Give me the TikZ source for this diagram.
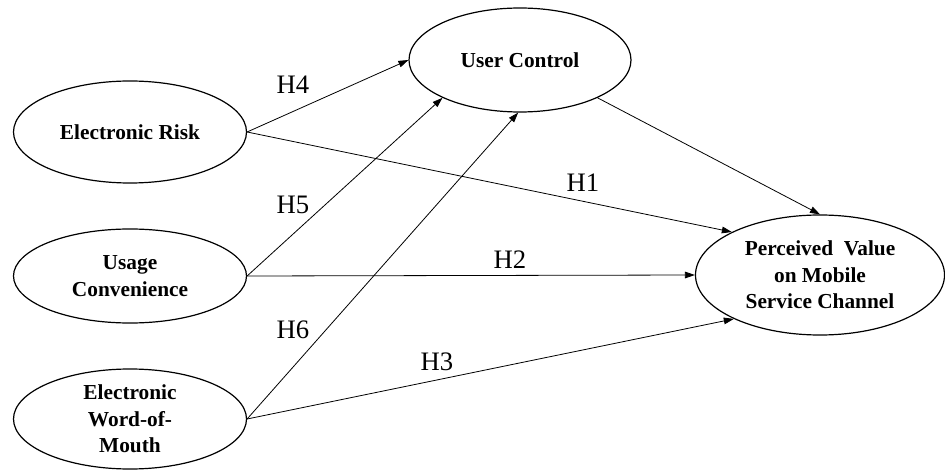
\documentclass[tikz,border=0pt]{standalone}
\usepackage{fontspec}
\setmainfont{Liberation Serif}
\usetikzlibrary{arrows.meta,shapes.geometric}

\begin{document}
\begin{tikzpicture}[x=0.75pt,y=-0.75pt,
  construct/.style={draw,ellipse,line width=0.9pt,inner sep=0pt,align=center,
    font=\fontsize{16}{20}\selectfont\bfseries},
  hyp/.style={font=\fontsize{20}{24}\selectfont},
  hpath/.style={line width=0.6pt,-{Triangle[length=7.5pt,width=5pt]}}]
\useasboundingbox (0,0) rectangle (945,470);
% constructs
\node[construct,minimum width=174.75pt,minimum height=76.5pt] (er) at (130,132) {Electronic Risk};
\node[construct,minimum width=174.75pt,minimum height=70.5pt] (uconv) at (130,276) {Usage\\Convenience};
\node[construct,minimum width=174.75pt,minimum height=75pt] (ewom) at (130,419) {Electronic\\Word-of-\\Mouth};
\node[construct,minimum width=166.5pt,minimum height=78pt] (uctrl) at (520,60) {User Control};
\node[construct,minimum width=186.75pt,minimum height=90pt] (pv) at (820,275) {Perceived\ \ Value\\on Mobile\\Service Channel};
% hypotheses
\node[hyp] (h4) at (293,85) {H4};
\node[hyp] (h5) at (293,205) {H5};
\node[hyp] (h6) at (293,330) {H6};
\node[hyp] (h1) at (583,183) {H1};
\node[hyp] (h2) at (510,260) {H2};
\node[hyp] (h3) at (437,362) {H3};
% paths
\draw[hpath] (er.east) -- (uctrl.west);
\draw[hpath] (er.east) -- (pv.154);
\draw[hpath] (uconv.east) -- (uctrl.206);
\draw[hpath] (uconv.east) -- (pv.west);
\draw[hpath] (ewom.east) -- (uctrl.268);
\draw[hpath] (ewom.east) -- (pv.207);
\draw[hpath] (uctrl.334) -- (pv.north);
\end{tikzpicture}
\end{document}
